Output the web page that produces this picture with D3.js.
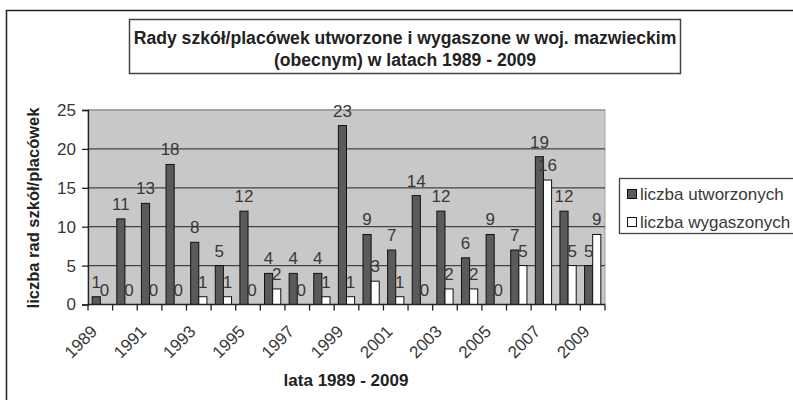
<!DOCTYPE html>
<html><head><meta charset="utf-8">
<script src="https://cdn.jsdelivr.net/npm/d3@7"></script>
<style>
html,body{margin:0;padding:0;background:#fff;}
svg{display:block;font-family:"Liberation Sans",Arial,sans-serif;}
</style></head>
<body>
<svg id="c" width="793" height="400"></svg>
<script>
const years = [1989,1990,1991,1992,1993,1994,1995,1996,1997,1998,1999,2000,2001,2002,2003,2004,2005,2006,2007,2008,2009];
const utworzonych = [1,11,13,18,8,5,12,4,4,4,23,9,7,14,12,6,9,7,19,12,5];
const wygaszonych = [0,0,0,0,1,1,0,2,0,1,1,3,1,0,2,2,0,5,16,5,9];
const seriesNames = ["liczba utworzonych","liczba wygaszonych"];
const yTicks = [0,5,10,15,20,25];
const xLabelYears = [1989,1991,1993,1995,1997,1999,2001,2003,2005,2007,2009];
const titleLines = ["Rady szkół/placówek utworzone i wygaszone w woj. mazwieckim","(obecnym) w latach 1989 - 2009"];
const yTitle = "liczba rad szkół/placówek";
const xTitle = "lata 1989 - 2009";

const svg = d3.select("#c");
const textCol = "#222";
const L = 88, R = 605, T = 110, B = 304.5;

// outer frame
svg.append("rect").attr("x",6.5).attr("y",10.5).attr("width",820).attr("height",420)
  .attr("fill","#fff").attr("stroke","#222").attr("stroke-width",1.5);

// title box
svg.append("rect").attr("x",129.5).attr("y",19.5).attr("width",551).attr("height",54)
  .attr("fill","#fff").attr("stroke","#444").attr("stroke-width",1.5);
svg.selectAll("text.title").data(titleLines).join("text").attr("class","title")
  .attr("x",405).attr("y",(d,i)=>43.5+i*22.5).attr("text-anchor","middle")
  .attr("font-size",17.6).attr("font-weight","bold").attr("fill",textCol).text(d=>d);

const x = d3.scaleBand().domain(years).range([L,R]).paddingInner(0).paddingOuter(0);
const y = d3.scaleLinear().domain([0,25]).range([B,T]);
const sub = d3.scaleBand().domain([0,1]).range([x.bandwidth()*0.17, x.bandwidth()*0.83]);

// plot background
svg.append("rect").attr("x",L).attr("y",T).attr("width",R-L).attr("height",B-T)
  .attr("fill","#c8c8c8").attr("stroke","#a0a0a0").attr("stroke-width",1);

// gridlines
svg.selectAll("line.grid").data(yTicks.filter(v=>v>0)).join("line").attr("class","grid")
  .attr("x1",L).attr("x2",R).attr("y1",d=>y(d)).attr("y2",d=>y(d))
  .attr("stroke",d=>d===25?"#9a9a9a":"#444").attr("stroke-width",1.3);

// bars
const data = years.map((yr,i)=>({yr, vals:[utworzonych[i],wygaszonych[i]]}));
const fills = ["#5a5a5a","#ffffff"];
const g = svg.selectAll("g.cat").data(data).join("g").attr("class","cat")
  .attr("transform",d=>`translate(${x(d.yr)},0)`);
g.selectAll("rect").data(d=>d.vals.map((v,k)=>({v,k}))).join("rect")
  .attr("x",d=>sub(d.k)).attr("width",sub.bandwidth())
  .attr("y",d=>y(d.v)).attr("height",d=>B-y(d.v))
  .attr("fill",d=>fills[d.k]).attr("stroke","#111").attr("stroke-width",1);
g.selectAll("text").data(d=>d.vals.map((v,k)=>({v,k}))).join("text")
  .attr("x",d=>sub(d.k)+sub.bandwidth()/2).attr("y",d=>y(d.v)-9)
  .attr("text-anchor","middle").attr("font-size",17).attr("fill","#383838").text(d=>d.v);

// y axis
const ya = d3.axisLeft(y).tickValues(yTicks).tickSize(6).tickPadding(6);
const yg = svg.append("g").attr("transform",`translate(${L},0)`).call(ya);
yg.select(".domain").attr("stroke","#222").attr("stroke-width",1.3);
yg.selectAll(".tick line").attr("stroke","#222").attr("stroke-width",1.3);
yg.selectAll(".tick text").attr("font-size",17).attr("fill","#383838").attr("font-family","Liberation Sans, Arial, sans-serif");

// x axis line and ticks
svg.append("line").attr("x1",L).attr("x2",R).attr("y1",B).attr("y2",B).attr("stroke","#222").attr("stroke-width",1.3);
const bounds = years.map(yr=>x(yr)).concat([x(years[years.length-1])+x.bandwidth()]);
svg.selectAll("line.xt").data(bounds).join("line").attr("class","xt")
  .attr("x1",d=>d).attr("x2",d=>d).attr("y1",B).attr("y2",B+6).attr("stroke","#222").attr("stroke-width",1.3);
svg.selectAll("text.xl").data(xLabelYears).join("text").attr("class","xl")
  .attr("transform",d=>`translate(${x(d)+x.bandwidth()/2-2},${B+28}) rotate(-45)`)
  .attr("text-anchor","end").attr("font-size",17).attr("fill","#383838").text(d=>d);

// axis titles
svg.append("text").attr("transform",`translate(39,208) rotate(-90)`).attr("text-anchor","middle")
  .attr("font-size",16.5).attr("font-weight","bold").attr("fill",textCol).text(yTitle);
svg.append("text").attr("x",346).attr("y",386).attr("text-anchor","middle")
  .attr("font-size",17).attr("font-weight","bold").attr("fill",textCol).text(xTitle);

// legend
svg.append("rect").attr("x",619.5).attr("y",178.5).attr("width",200).attr("height",55)
  .attr("fill","#fff").attr("stroke","#444").attr("stroke-width",1.3);
const lg = svg.selectAll("g.leg").data(seriesNames).join("g").attr("class","leg")
  .attr("transform",(d,i)=>`translate(627,${189+i*28})`);
lg.append("rect").attr("x",0.5).attr("y",0.5).attr("width",9).attr("height",9)
  .attr("fill",(d,i)=>fills[i]).attr("stroke","#111").attr("stroke-width",1);
lg.append("text").attr("x",13).attr("y",10.5).attr("font-size",17).attr("fill","#383838").text(d=>d);
</script>
</body></html>
